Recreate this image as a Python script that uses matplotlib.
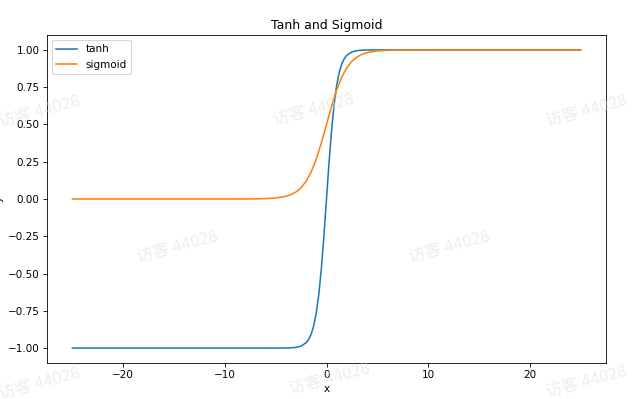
"""
Tanh 與 Sigmoid 曲線
輸出：out.png
"""

import matplotlib
matplotlib.use("Agg")
import matplotlib.pyplot as plt

OUTPUT_PNG = "out.png"
DPI = 75
W, H = 639, 399

# tanh：點
TANH_X = [-25, -6, -5, -4, -3.5, -3, -2.5, -2, -1.75, -1.5, -1.25, -1, -0.75,
          -0.5, -0.25, 0, 0.25, 0.5, 0.75, 1, 1.25, 1.5, 1.75, 2, 2.5, 3,
          3.5, 4, 5, 6, 25]
TANH_Y = [-1.0, -1.0, -0.9999, -0.9993, -0.9982, -0.9951, -0.9866, -0.964,
          -0.9414, -0.9051, -0.8483, -0.7616, -0.6351, -0.4621, -0.2449, 0.0,
          0.2449, 0.4621, 0.6351, 0.7616, 0.8483, 0.9051, 0.9414, 0.964,
          0.9866, 0.9951, 0.9982, 0.9993, 0.9999, 1.0, 1.0]

# sigmoid：點
SIG_X = [-25, -10, -8, -7, -6, -5, -4, -3.5, -3, -2.5, -2, -1.5, -1, -0.5,
         0, 0.5, 1, 1.5, 2, 2.5, 3, 3.5, 4, 5, 6, 7, 8, 10, 25]
SIG_Y = [0.0, 0.00005, 0.0003, 0.0009, 0.0025, 0.0067, 0.018, 0.0293, 0.0474,
         0.0759, 0.1192, 0.1824, 0.2689, 0.3775, 0.5, 0.6225, 0.7311, 0.8176,
         0.8808, 0.9241, 0.9526, 0.9707, 0.982, 0.9933, 0.9975, 0.9991,
         0.9997, 0.99995, 1.0]

WATERMARK = "访客 44028"
WM_POS = [(40, 113), (314, 111), (587, 112),
          (178, 248), (450, 248),
          (40, 385), (330, 380), (587, 383)]


def main():
    fig = plt.figure(figsize=(W / DPI, H / DPI), dpi=DPI)
    ax = fig.add_axes([47 / W, 1 - 363 / H, (606 - 47) / W, (363 - 35) / H])

    ax.plot(TANH_X, TANH_Y, label="tanh")
    ax.plot(SIG_X, SIG_Y, label="sigmoid")
    ax.set_title("Tanh and Sigmoid")
    ax.set_xlabel("x")
    ax.set_ylabel("y")
    ax.legend(loc="upper left")

    # 浮水印
    for px, py in WM_POS:
        fig.text(px / W, 1 - py / H, WATERMARK, fontsize=16, rotation=15,
                 ha="center", va="center", color="#dcdcdc", alpha=0.5,
                 family=["Noto Sans CJK SC", "DejaVu Sans"])

    fig.savefig(OUTPUT_PNG, dpi=DPI)
    plt.close(fig)


if __name__ == "__main__":
    main()
